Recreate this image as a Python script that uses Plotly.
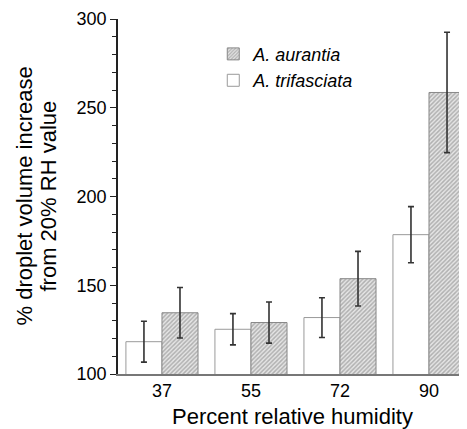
import plotly.graph_objects as go

humidity = ["37", "55", "72", "90"]
trifasciata = [118.2, 125.2, 131.8, 178.5]
trifasciata_err = [11.5, 8.8, 11.2, 15.8]
aurantia = [134.5, 129.0, 153.7, 258.6]
aurantia_err = [14.2, 11.6, 15.4, 33.9]

FONT = "Liberation Sans, Arial, Helvetica, sans-serif"

fig = go.Figure()
fig.add_trace(go.Bar(
    x=humidity, y=trifasciata, name="A. trifasciata", legendgroup="t",
    marker=dict(color="white", line=dict(color="#9a9a9a", width=1)),
    error_y=dict(type="data", array=trifasciata_err, color="#333333", thickness=1.6, width=3),
))
fig.add_trace(go.Bar(
    x=humidity, y=aurantia, name="A. aurantia", legendgroup="a",
    marker=dict(color="#c8c8c8", line=dict(color="#888888", width=1),
                pattern=dict(shape="/", fgcolor="#7a7a7a", bgcolor="#e6e6e6", size=3, solidity=0.5)),
    error_y=dict(type="data", array=aurantia_err, color="#333333", thickness=1.6, width=3),
))

fig.update_layout(
    width=459, height=421,
    margin=dict(l=110, r=0, t=11, b=55),
    paper_bgcolor="white", plot_bgcolor="white",
    barmode="group", bargap=0.19, bargroupgap=0,
    font=dict(family=FONT, size=18, color="black"),
    showlegend=True,
    legend=dict(x=0.273, y=0.953, xanchor="left", yanchor="top", traceorder="reversed",
                tracegroupgap=8,
                font=dict(size=18, style="italic"), bgcolor="rgba(0,0,0,0)", itemwidth=30),
    xaxis=dict(type="category", range=[-0.494, 3.427], showline=True, linecolor="#777777",
               linewidth=1.5, ticks="", showgrid=False, zeroline=False, automargin=False,
               tickfont=dict(size=18), ticklabelstandoff=0,
               title=dict(text="Percent relative humidity", font=dict(size=22), standoff=12)),
    yaxis=dict(range=[100, 300], showline=True, linecolor="#222222", linewidth=1.5,
               ticks="outside", ticklen=6, tickwidth=1.2, tickcolor="#222222",
               dtick=50, tick0=100, showgrid=False, zeroline=False,
               minor=dict(dtick=10, ticks="outside", ticklen=4, tickcolor="#222222", tickwidth=1.2),
               tickfont=dict(size=18)),
    annotations=[
        dict(text="% droplet volume increase", xref="paper", yref="paper", x=0, y=0.5,
             xanchor="center", yanchor="middle", xshift=-94, textangle=-90,
             showarrow=False, font=dict(size=22)),
        dict(text="from 20% RH value", xref="paper", yref="paper", x=0, y=0.5,
             xanchor="center", yanchor="middle", xshift=-70, textangle=-90,
             showarrow=False, font=dict(size=22)),
    ],
)

fig.write_html("out.html")
